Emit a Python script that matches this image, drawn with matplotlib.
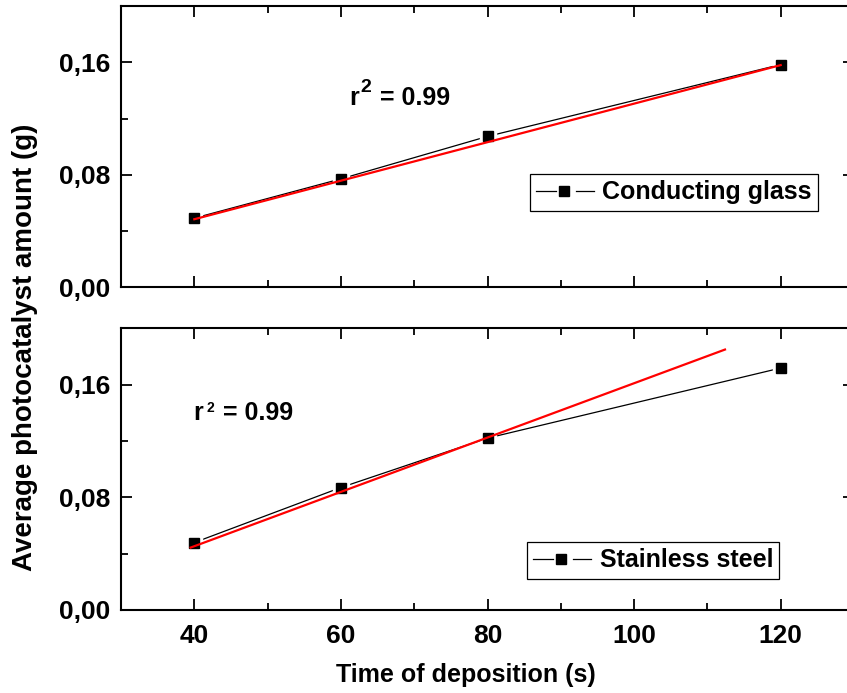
import numpy as np
import matplotlib
import matplotlib.pyplot as plt
from matplotlib.ticker import MultipleLocator, FuncFormatter
from matplotlib.legend_handler import HandlerBase
from matplotlib.lines import Line2D

matplotlib.use('Agg')

plt.rcParams['font.family'] = ['Liberation Sans', 'DejaVu Sans']
plt.rcParams['font.weight'] = 'bold'

# deposition times (s)
time_s = [40, 60, 80, 120]

# average photocatalyst amount (g)
glass_amount = [0.0492, 0.0771, 0.1073, 0.1584]
steel_amount = [0.0479, 0.0870, 0.1221, 0.1719]

# linear fits as drawn in the source figure: (slope, intercept, x range)
glass_fit = (0.00137, -0.0064, (40, 120))
steel_fit = (0.00193, -0.0319, (39.5, 112.4))

r2_glass = 0.99
r2_steel = 0.99

W, H = 847, 693
fig = plt.figure(figsize=(W / 100, H / 100), dpi=100)

left, right = 121 / W, 854 / W
ax_top = fig.add_axes([left, 0.5854, right - left, 0.9913 - 0.5854])
ax_bot = fig.add_axes([left, 0.1198, right - left, 0.526 - 0.1198])


# Origin-style legend symbol: line, marker, gap, line
class GapHandler(HandlerBase):
    def create_artists(self, legend, orig_handle, xdescent, ydescent, width, height, fontsize, trans):
        y = height / 2 - ydescent
        x0 = -xdescent
        l1 = Line2D([x0, x0 + 0.345 * width], [y, y], color='black', lw=0.9)
        m = Line2D([x0 + 0.483 * width], [y], ls='none', marker='s', ms=6.5, color='black')
        l2 = Line2D([x0 + 0.69 * width, x0 + width], [y, y], color='black', lw=0.9)
        for a in (l1, m, l2):
            a.set_transform(trans)
        return [l1, m, l2]


def style_axis(ax, show_xlabels):
    ax.set_xlim(30, 130)
    ax.set_ylim(0, 0.2)
    ax.xaxis.set_major_locator(MultipleLocator(20))
    ax.xaxis.set_minor_locator(MultipleLocator(10))
    ax.yaxis.set_major_locator(MultipleLocator(0.08))
    ax.yaxis.set_minor_locator(MultipleLocator(0.04))
    ax.yaxis.set_major_formatter(FuncFormatter(lambda v, p: f'{v:.2f}'.replace('.', ',')))
    ax.tick_params(which='both', direction='in', top=True, right=True, width=1.3)
    ax.tick_params(which='major', length=8)
    ax.tick_params(which='minor', length=5)
    ax.tick_params(axis='x', pad=10, labelsize=19, labelbottom=show_xlabels)
    ax.tick_params(axis='y', pad=8, labelsize=19)
    for s in ax.spines.values():
        s.set_linewidth(1.5)


def draw_panel(ax, y, fit, label, legend_xy):
    line, = ax.plot(time_s, y, color='black', lw=0.9, zorder=2)
    ax.plot(time_s, y, ls='none', marker='s', ms=11, color='white', zorder=3)
    ax.plot(time_s, y, ls='none', marker='s', ms=6.5, color='black', zorder=4)
    slope, icpt, (x0, x1) = fit
    fx = np.array([x0, x1])
    ax.plot(fx, slope * fx + icpt, color='red', lw=1.6, zorder=5)
    leg = ax.legend([line], [label], handler_map={Line2D: GapHandler()},
                    loc='upper left', bbox_to_anchor=legend_xy, bbox_transform=fig.transFigure,
                    borderaxespad=0, fontsize=18, handlelength=2.3, handletextpad=0.35,
                    borderpad=0.25, fancybox=False, framealpha=1, edgecolor='black')
    leg.get_frame().set_linewidth(0.9)


style_axis(ax_top, False)
style_axis(ax_bot, True)

draw_panel(ax_top, glass_amount, glass_fit, 'Conducting glass', (530 / W, 1 - 174 / H))
draw_panel(ax_bot, steel_amount, steel_fit, 'Stainless steel', (527 / W, 1 - 542 / H))

# r^2 annotations
t = ax_top.text(61.2, 0.1299, 'r', fontsize=18, va='baseline')
ax_top.annotate('2', xy=(1, 0), xycoords=t, xytext=(0.5, 13), textcoords='offset points',
                fontsize=14, va='baseline')
ax_top.annotate(f'= {r2_glass:.2f}', xy=(1, 0), xycoords=t, xytext=(15, 0),
                textcoords='offset points', fontsize=18, va='bottom')

t = ax_bot.text(39.8, 0.1351, 'r', fontsize=18, va='baseline')
ax_bot.annotate('2', xy=(1, 0), xycoords=t, xytext=(2.5, 9), textcoords='offset points',
                fontsize=10, va='baseline')
ax_bot.annotate(f'= {r2_steel:.2f}', xy=(1, 0), xycoords=t, xytext=(15, 0),
                textcoords='offset points', fontsize=18, va='bottom')

fig.text(25 / W, 1 - 347 / H, 'Average photocatalyst amount (g)', rotation=90,
         ha='center', va='center', fontsize=20)
fig.text(466 / W, 1 - 675 / H, 'Time of deposition (s)', ha='center', va='center', fontsize=18)

fig.savefig('out.png', dpi=100)
